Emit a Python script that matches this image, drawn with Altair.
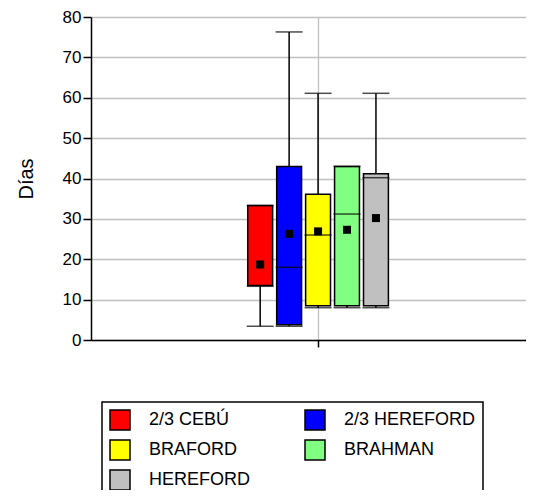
import altair as alt
import pandas as pd

razas = ["2/3 CEBÚ", "2/3 HEREFORD", "BRAFORD", "BRAHMAN", "HEREFORD"]
colores = ["#FF0000", "#0000FF", "#FFFF00", "#80FF80", "#C0C0C0"]
minimo = [3.4, 3.4, 8.0, 8.0, 8.0]
q1 = [13.5, 3.8, 8.5, 8.5, 8.5]
mediana = [13.3, 18.0, 26.0, 31.2, 40.2]
q3 = [33.3, 43.0, 36.1, 43.0, 41.2]
maximo = [33.3, 76.3, 61.1, 43.0, 61.1]
media = [18.7, 26.3, 26.9, 27.3, 30.2]
grupo = ["" for _ in razas]

df = pd.DataFrame({
    "grupo": grupo, "raza": razas, "min": minimo, "q1": q1, "med": mediana,
    "q3": q3, "max": maximo, "media": media,
})

FONT = "Liberation Sans"

x = alt.X("grupo:N", title=None,
          scale=alt.Scale(paddingOuter=1, paddingInner=0, align=0.533),
          axis=alt.Axis(labels=False, ticks=True, tickSize=7, tickColor="black",
                        domainColor="black", domainWidth=1.5, grid=True,
                        gridColor="#C0C0C0", gridWidth=1.3, tickWidth=1.5))
xo = alt.XOffset("raza:N", sort=razas,
                 scale=alt.Scale(domain=razas, paddingInner=0.14, paddingOuter=0.075))
yscale = alt.Scale(domain=[0, 80], nice=False, zero=True)

base = alt.Chart(df)

whisker = base.mark_rule(color="black", strokeWidth=1.5).encode(
    x=x, xOffset=xo,
    y=alt.Y("min:Q", scale=yscale, title="Días",
            axis=alt.Axis(values=list(range(0, 81, 10)), tickSize=8, tickColor="black",
                          tickWidth=1.5, domainColor="black", domainWidth=1.5,
                          gridColor="#C0C0C0", gridWidth=1.3, labelFontSize=17,
                          labelColor="black", labelFont=FONT, labelPadding=2,
                          titleFont=FONT, titleFontSize=20, titleFontWeight="normal",
                          titleColor="black", titlePadding=26)),
    y2="max:Q",
)
caps_lo = base.mark_tick(color="black", thickness=1.5, size=27, orient="horizontal").encode(
    x=x, xOffset=xo, y=alt.Y("min:Q", scale=yscale))
caps_hi = base.mark_tick(color="black", thickness=1.5, size=27, orient="horizontal").encode(
    x=x, xOffset=xo, y=alt.Y("max:Q", scale=yscale))
box = base.mark_bar(stroke="black", strokeWidth=1.5).encode(
    x=x, xOffset=xo,
    y=alt.Y("q1:Q", scale=yscale), y2="q3:Q",
    color=alt.Color("raza:N", sort=razas,
                    scale=alt.Scale(domain=razas, range=colores),
                    legend=alt.Legend(title=None, orient="none", legendX=11, legendY=385,
                                      direction="horizontal", columns=2,
                                      symbolType="square", symbolSize=400,
                                      symbolStrokeColor="black", symbolStrokeWidth=1.5,
                                      symbolOpacity=1, labelFont=FONT, labelFontSize=18,
                                      labelColor="black", labelOffset=18, rowPadding=4,
                                      columnPadding=51, padding=7, strokeColor="black",
                                      fillColor="white", labelLimit=300)),
)
median = base.mark_tick(color="black", thickness=1.5, size=27, orient="horizontal").encode(
    x=x, xOffset=xo, y=alt.Y("med:Q", scale=yscale))
mean = base.mark_square(color="black", size=64, opacity=1, filled=True).encode(
    x=x, xOffset=xo, y=alt.Y("media:Q", scale=yscale))

chart = alt.layer(whisker, box, caps_lo, caps_hi, median, mean).properties(
    width=435, height=323,
    autosize=alt.AutoSizeParams(type="none"),
    padding={"left": 83, "top": 9, "right": 0, "bottom": 150},
).configure_view(stroke=None).configure_legend(strokeWidth=1.5)

chart.save("out.html", embed_options={"renderer": "svg", "actions": False})
